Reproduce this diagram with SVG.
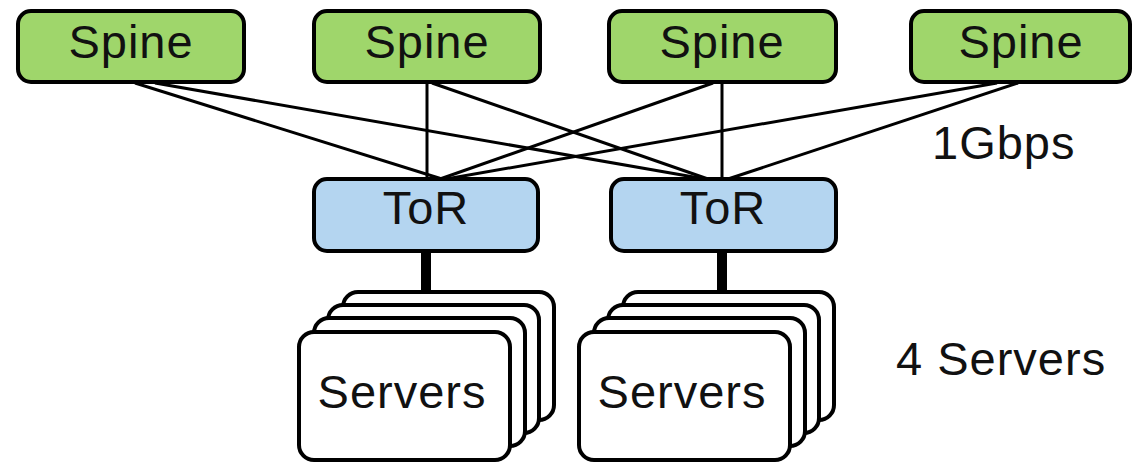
<svg xmlns="http://www.w3.org/2000/svg" width="1133" height="464" viewBox="0 0 1133 464">
<style>
.spine{fill:#9fd66b;stroke:#000;stroke-width:4}
.tor{fill:#b4d5f0;stroke:#000;stroke-width:4}
.srv{fill:#fff;stroke:#000;stroke-width:4}
.lbl{font-family:"Liberation Sans",Arial,sans-serif;font-size:47px;letter-spacing:1px;fill:#111;text-anchor:middle}
.note{font-family:"Liberation Sans",Arial,sans-serif;font-size:47px;letter-spacing:1px;fill:#111}
.link{stroke:#000;stroke-width:3;fill:none}
.up{stroke:#000;stroke-width:10;fill:none}
</style>
<rect width="1133" height="464" fill="#fff"/>
<g id="connectors">
<line class="link" x1="135" y1="83" x2="442" y2="179"/>
<line class="link" x1="155" y1="83" x2="705" y2="179"/>
<line class="link" x1="427" y1="83" x2="427" y2="179"/>
<line class="link" x1="432" y1="83" x2="708" y2="179"/>
<line class="link" x1="713" y1="83" x2="440" y2="179"/>
<line class="link" x1="722" y1="83" x2="722" y2="179"/>
<line class="link" x1="997" y1="83" x2="446" y2="179"/>
<line class="link" x1="1018" y1="83" x2="728" y2="179"/>
<line class="up" x1="426" y1="252" x2="426" y2="292"/>
<line class="up" x1="722" y1="252" x2="722" y2="292"/>
</g>
<g id="spine1"><rect class="spine" x="18" y="11" width="226" height="71" rx="13"/><text class="lbl" x="131" y="58">Spine</text></g>
<g id="spine2"><rect class="spine" x="314" y="11" width="226" height="71" rx="13"/><text class="lbl" x="427" y="58">Spine</text></g>
<g id="spine3"><rect class="spine" x="609" y="11" width="227" height="71" rx="13"/><text class="lbl" x="722" y="58">Spine</text></g>
<g id="spine4"><rect class="spine" x="911" y="11" width="219" height="71" rx="13"/><text class="lbl" x="1021" y="58">Spine</text></g>
<g id="tor1"><rect class="tor" x="314" y="179" width="224" height="72" rx="13"/><text class="lbl" x="426" y="224">ToR</text></g>
<g id="tor2"><rect class="tor" x="611" y="179" width="225" height="72" rx="13"/><text class="lbl" x="723" y="224">ToR</text></g>
<g id="servers1">
<rect class="srv" x="343" y="292" width="211" height="128" rx="15"/>
<rect class="srv" x="328" y="305" width="211" height="128" rx="15"/>
<rect class="srv" x="314" y="318" width="211" height="128" rx="15"/>
<rect class="srv" x="299" y="332" width="211" height="128" rx="15"/>
<text class="lbl" x="402" y="408">Servers</text>
</g>
<g id="servers2">
<rect class="srv" x="623" y="292" width="211" height="128" rx="15"/>
<rect class="srv" x="608" y="305" width="211" height="128" rx="15"/>
<rect class="srv" x="594" y="318" width="211" height="128" rx="15"/>
<rect class="srv" x="579" y="332" width="211" height="128" rx="15"/>
<text class="lbl" x="682" y="408">Servers</text>
</g>
<text class="note" x="932" y="159">1Gbps</text>
<text class="note" x="896" y="375">4 Servers</text>
</svg>
